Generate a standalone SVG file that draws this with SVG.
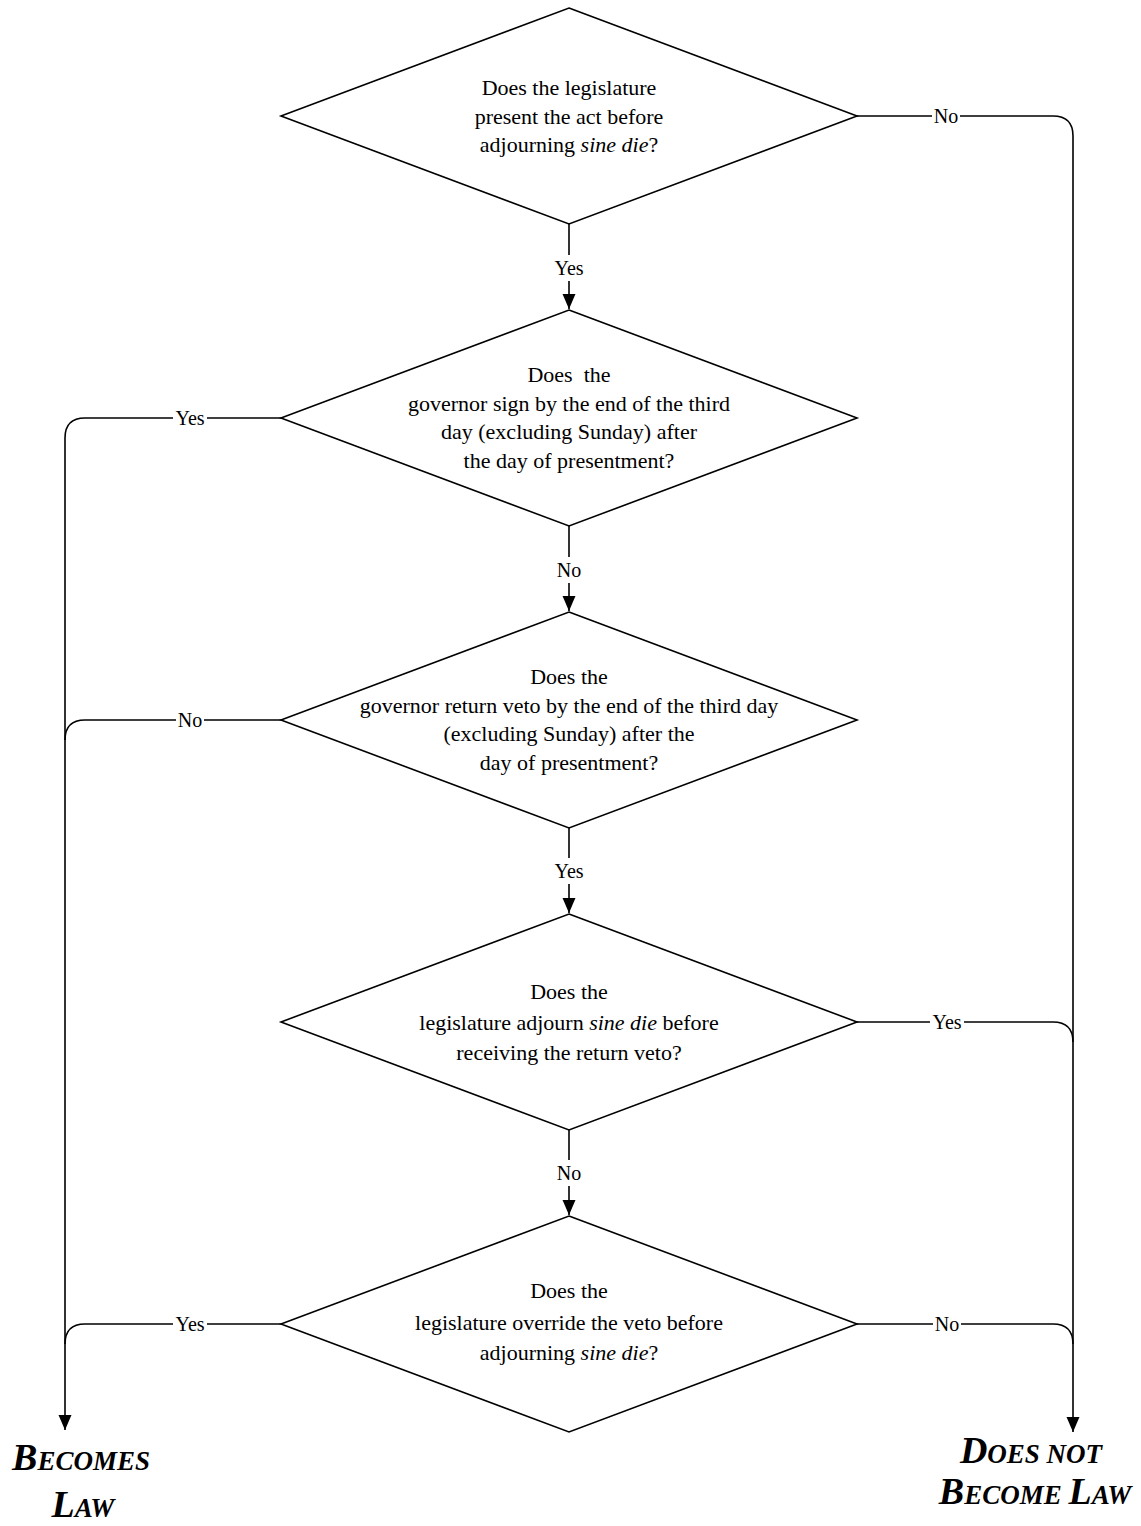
<svg xmlns="http://www.w3.org/2000/svg" width="1141" height="1526" viewBox="0 0 1141 1526">
<style>
.d{fill:#fff;stroke:#000;stroke-width:1.6}
.c{fill:none;stroke:#000;stroke-width:1.6}
.t{font-family:"Liberation Serif","Times New Roman",serif;font-size:22px;fill:#000;text-anchor:middle}
.l{font-family:"Liberation Serif","Times New Roman",serif;font-size:20px;fill:#000;text-anchor:middle}
.bg{fill:#fff}
.i{font-style:italic}
.o{font-family:"Liberation Serif","Times New Roman",serif;font-weight:bold;font-style:italic;font-size:38px;fill:#000;text-anchor:middle}
.s{font-size:27px}
</style>
<defs>
<marker id="arr" markerUnits="userSpaceOnUse" markerWidth="16" markerHeight="14" refX="15" refY="6.5" orient="auto">
<path d="M0,0 L15,6.5 L0,13 z" fill="#000"/>
</marker>
</defs>
<rect width="1141" height="1526" fill="#fff"/>
<g id="connectors">
<path class="c" d="M569,224 V309" marker-end="url(#arr)"/>
<path class="c" d="M569,526 V611" marker-end="url(#arr)"/>
<path class="c" d="M569,828 V913" marker-end="url(#arr)"/>
<path class="c" d="M569,1130 V1215" marker-end="url(#arr)"/>
<path class="c" d="M281,418 H85 Q65,418 65,438 V1430" marker-end="url(#arr)"/>
<path class="c" d="M281,720 H85 Q65,720 65,740"/>
<path class="c" d="M281,1324 H85 Q65,1324 65,1344"/>
<path class="c" d="M857,116 H1053 Q1073,116 1073,136 V1432" marker-end="url(#arr)"/>
<path class="c" d="M857,1022 H1053 Q1073,1022 1073,1042"/>
<path class="c" d="M857,1324 H1053 Q1073,1324 1073,1344"/>
<g id="labels">
<rect class="bg" x="552" y="255" width="34" height="26"/><text class="l" x="569" y="275">Yes</text>
<rect class="bg" x="555" y="557" width="28" height="26"/><text class="l" x="569" y="577">No</text>
<rect class="bg" x="552" y="858" width="34" height="26"/><text class="l" x="569" y="878">Yes</text>
<rect class="bg" x="555" y="1160" width="28" height="26"/><text class="l" x="569" y="1180">No</text>
<rect class="bg" x="932" y="104" width="28" height="26"/><text class="l" x="946" y="123">No</text>
<rect class="bg" x="173" y="405" width="34" height="26"/><text class="l" x="190" y="425">Yes</text>
<rect class="bg" x="176" y="707" width="28" height="26"/><text class="l" x="190" y="727">No</text>
<rect class="bg" x="930" y="1009" width="34" height="26"/><text class="l" x="947" y="1029">Yes</text>
<rect class="bg" x="173" y="1311" width="34" height="26"/><text class="l" x="190" y="1331">Yes</text>
<rect class="bg" x="933" y="1311" width="28" height="26"/><text class="l" x="947" y="1331">No</text>
</g>
</g>
<g id="q1">
<polygon class="d" points="569,8 857,116 569,224 281,116"/>
<text class="t" x="569" y="95">Does the legislature</text>
<text class="t" x="569" y="123.5">present the act before</text>
<text class="t" x="569" y="152">adjourning <tspan class="i">sine die</tspan>?</text>
</g>
<g id="q2">
<polygon class="d" points="569,310 857,418 569,526 281,418"/>
<text class="t" x="569" y="382" xml:space="preserve">Does  the</text>
<text class="t" x="569" y="410.5">governor sign by the end of the third</text>
<text class="t" x="569" y="439">day (excluding Sunday) after</text>
<text class="t" x="569" y="467.5">the day of presentment?</text>
</g>
<g id="q3">
<polygon class="d" points="569,612 857,720 569,828 281,720"/>
<text class="t" x="569" y="684">Does the</text>
<text class="t" x="569" y="712.5">governor return veto by the end of the third day</text>
<text class="t" x="569" y="741">(excluding Sunday) after the</text>
<text class="t" x="569" y="769.5">day of presentment?</text>
</g>
<g id="q4">
<polygon class="d" points="569,914 857,1022 569,1130 281,1022"/>
<text class="t" x="569" y="999">Does the</text>
<text class="t" x="569" y="1030">legislature adjourn <tspan class="i">sine die</tspan> before</text>
<text class="t" x="569" y="1060">receiving the return veto?</text>
</g>
<g id="q5">
<polygon class="d" points="569,1216 857,1324 569,1432 281,1324"/>
<text class="t" x="569" y="1298">Does the</text>
<text class="t" x="569" y="1330">legislature override the veto before</text>
<text class="t" x="569" y="1360">adjourning <tspan class="i">sine die</tspan>?</text>
</g>
<g id="becomes-law">
<text class="o" x="81" y="1470">B<tspan class="s">ECOMES</tspan></text>
<text class="o" x="83" y="1517">L<tspan class="s">AW</tspan></text>
</g>
<g id="does-not-become-law">
<text class="o" x="1031" y="1463">D<tspan class="s">OES NOT</tspan></text>
<text class="o" x="1035" y="1504">B<tspan class="s">ECOME </tspan>L<tspan class="s">AW</tspan></text>
</g>
</svg>
